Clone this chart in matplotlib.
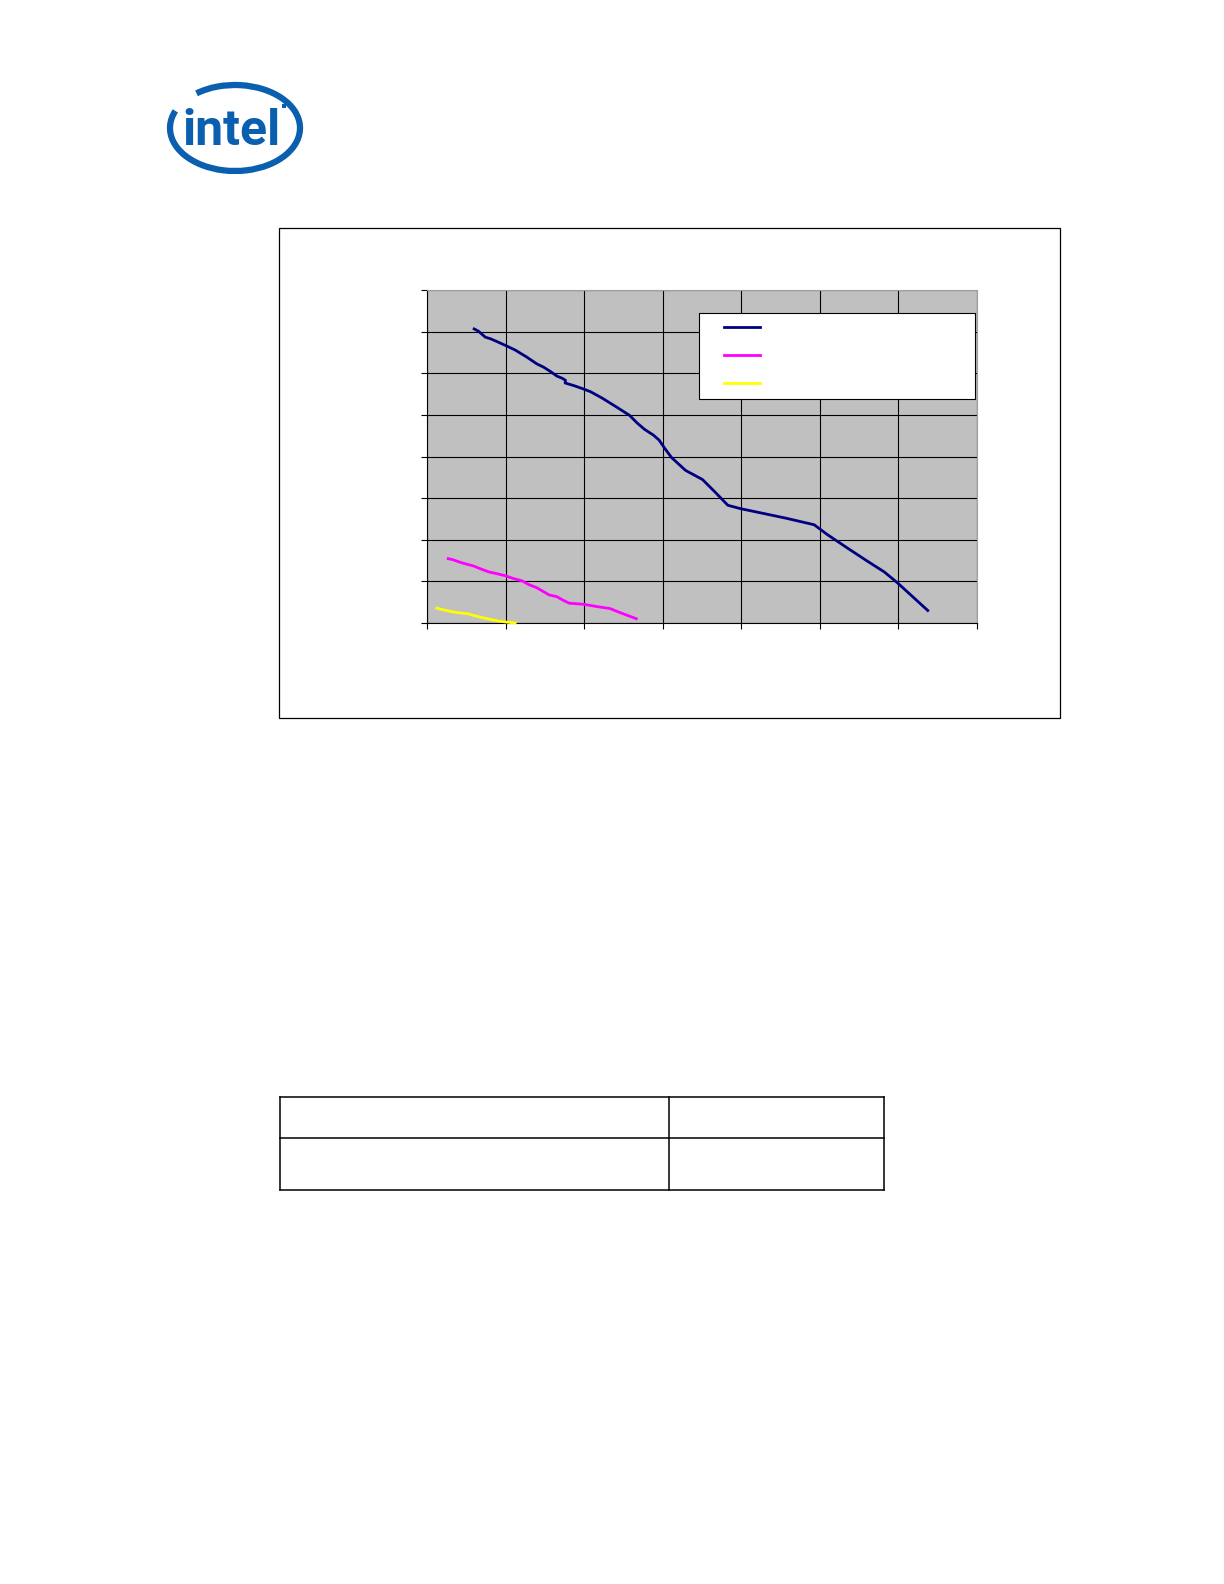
import matplotlib
matplotlib.use("Agg")
import matplotlib.pyplot as plt
from matplotlib.patches import Rectangle, Arc
from matplotlib.lines import Line2D

# ---- data (x in grid units 0..7, y in grid units 0..8) ----
navy_x = [0.60, 0.655, 0.742, 0.809, 0.906, 1.007, 1.122, 1.267, 1.397, 1.484, 1.570,
          1.652, 1.724, 1.763, 1.758, 1.869, 1.989, 2.086, 2.230, 2.399, 2.577, 2.673,
          2.770, 2.881, 2.953, 3.025, 3.112, 3.290, 3.507, 3.675, 3.829, 3.988, 4.229,
          4.566, 4.928, 5.096, 5.385, 5.602, 5.819, 5.987, 6.180, 6.373]
navy_y = [7.065, 7.01, 6.867, 6.828, 6.748, 6.661, 6.558, 6.392, 6.226, 6.146, 6.044,
          5.933, 5.877, 5.830, 5.766, 5.703, 5.624, 5.552, 5.402, 5.204, 4.990, 4.808,
          4.650, 4.515, 4.396, 4.198, 3.976, 3.667, 3.446, 3.129, 2.828, 2.748, 2.653,
          2.519, 2.360, 2.123, 1.758, 1.489, 1.228, 0.966, 0.634, 0.301]

magenta_x = [0.270, 0.328, 0.424, 0.496, 0.592, 0.674, 0.785, 0.881, 1.002, 1.098, 1.209,
             1.291, 1.397, 1.484, 1.556, 1.652, 1.724, 1.811, 1.989, 2.158, 2.327, 2.495, 2.664]
magenta_y = [1.545, 1.521, 1.457, 1.418, 1.370, 1.307, 1.228, 1.188, 1.133, 1.069, 1.014,
             0.927, 0.848, 0.752, 0.673, 0.634, 0.555, 0.475, 0.451, 0.396, 0.348, 0.222, 0.103]

yellow_x = [0.125, 0.207, 0.303, 0.400, 0.520, 0.592, 0.689, 0.785, 0.906, 1.002, 1.122]
yellow_y = [0.356, 0.317, 0.277, 0.246, 0.222, 0.182, 0.135, 0.095, 0.048, 0.024, 0.0]

x_ticks = [0, 1, 2, 3, 4, 5, 6, 7]
y_ticks = [0, 1, 2, 3, 4, 5, 6, 7, 8]

NAVY = "#000080"
MAGENTA = "#FF00FF"
YELLOW = "#FFFF00"
W, H = 1224, 1584

fig = plt.figure(figsize=(W / 100, H / 100), dpi=100)

# page-level overlay in pixel coordinates (y grows downward)
bg = fig.add_axes([0, 0, 1, 1], zorder=0)
bg.set_xlim(0, W)
bg.set_ylim(H, 0)
bg.axis("off")

# Intel logo
blue = "#0A5FAE"
bg.text(182, 145, "intel", color=blue, fontsize=36, fontweight="bold",
        family=["Roboto", "DejaVu Sans"], ha="left", va="baseline")
bg.add_patch(Rectangle((282, 104), 4, 4, color=blue, lw=0))
bg.add_patch(Arc((235, 128), 130, 86, theta1=222, theta2=556, color=blue, lw=4.5))

# chart outer frame
bg.add_patch(Rectangle((279, 228), 1060 - 279, 718 - 228, fill=False,
                       edgecolor="black", lw=0.9))

# table below
tl, tr, tt, tb, tm, tv = 280, 884, 1097, 1190, 1138, 669
for (x0, y0, x1, y1) in [(tl, tt, tr, tt), (tl, tm, tr, tm), (tl, tb, tr, tb),
                         (tl, tt, tl, tb), (tr, tt, tr, tb), (tv, tt, tv, tb)]:
    bg.plot([x0, x1], [y0, y1], color="black", lw=1.1, solid_capstyle="projecting")

# chart axes
ax = fig.add_axes([427 / W, 1 - 623 / H, 550 / W, 333 / H], zorder=1)
ax.set_facecolor("#C0C0C0")
ax.set_xlim(x_ticks[0], x_ticks[-1])
ax.set_ylim(y_ticks[0], y_ticks[-1])
ax.set_xticks(x_ticks)
ax.set_yticks(y_ticks)
ax.set_xticklabels([])
ax.set_yticklabels([])
ax.grid(True, color="black", lw=0.8)
ax.set_axisbelow(True)
ax.tick_params(direction="out", length=4, width=0.8, color="black")
for s in ["top", "right"]:
    ax.spines[s].set_color("#A0A0A0")
    ax.spines[s].set_linewidth(0.8)
for s in ["left", "bottom"]:
    ax.spines[s].set_color("black")
    ax.spines[s].set_linewidth(0.8)

ax.plot(navy_x, navy_y, color=NAVY, lw=2.0, clip_on=False, zorder=3)
ax.plot(magenta_x, magenta_y, color=MAGENTA, lw=2.0, clip_on=False, zorder=3)
ax.plot(yellow_x, yellow_y, color=YELLOW, lw=2.0, clip_on=False, zorder=3)

# legend box (no text in reference)
lx0, lx1 = (699 - 427) / 550, (975 - 427) / 550
ly0, ly1 = (623 - 399) / 333, (623 - 313) / 333
ax.add_patch(Rectangle((lx0, ly0), lx1 - lx0, ly1 - ly0, transform=ax.transAxes,
                       facecolor="white", edgecolor="black", lw=0.8, zorder=4))
hx0, hx1 = (724 - 427) / 550, (760 - 427) / 550
for yy, c in [(327, NAVY), (355, MAGENTA), (383, YELLOW)]:
    ya = (623 - yy) / 333
    ax.add_line(Line2D([hx0, hx1], [ya, ya], transform=ax.transAxes, color=c,
                       lw=2.0, zorder=5))

fig.savefig("out.png", dpi=100)
